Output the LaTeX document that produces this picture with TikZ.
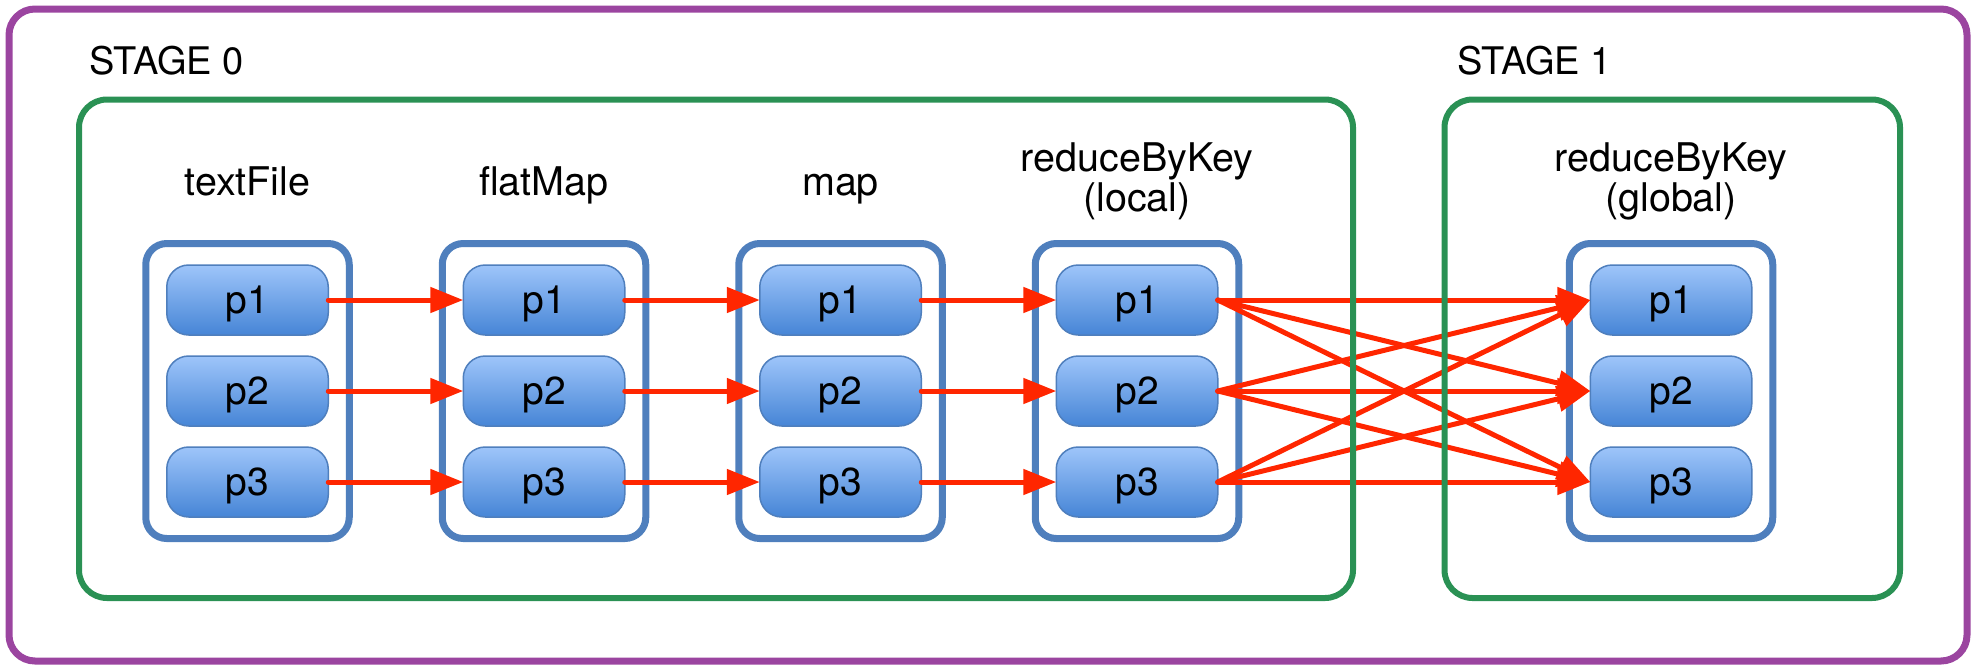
\documentclass[tikz,border=0pt]{standalone}
\usepackage{fontspec}
\setmainfont{TeX Gyre Heros}
\usetikzlibrary{arrows.meta}
\definecolor{framepurple}{RGB}{155,69,160}
\definecolor{stagegreen}{RGB}{42,145,84}
\definecolor{rddblue}{RGB}{79,127,189}
\definecolor{parttop}{RGB}{158,197,250}
\definecolor{partbottom}{RGB}{70,133,214}
\definecolor{flowred}{RGB}{255,38,0}

\begin{document}
\begin{tikzpicture}[x=1pt,y=-1pt,
  frame/.style={draw=framepurple,line width=7pt,rounded corners=26pt},
  stagebox/.style={draw=stagegreen,line width=6pt,rounded corners=28pt},
  stagetitle/.style={inner sep=0pt,anchor=base west,font=\fontsize{38}{40}\selectfont},
  rdd/.style={draw=rddblue,line width=7pt,rounded corners=21pt,fill=white,
    minimum width=203.5pt,minimum height=295pt,inner sep=0pt,outer sep=0pt},
  part/.style={draw=rddblue,line width=1.5pt,rounded corners=22pt,
    top color=parttop,bottom color=partbottom,
    minimum width=161.5pt,minimum height=70pt,inner sep=0pt,outer sep=0pt,
    text height=27pt,text depth=0pt,font=\fontsize{39}{40}\selectfont},
  opname/.style={inner sep=0pt,anchor=base,align=center,font=\fontsize{39.5}{40}\selectfont},
  flow/.style={draw=flowred,line width=5pt,line cap=round,
    -{Triangle[length=33pt,width=25pt]}}
]
\useasboundingbox (0,0) rectangle (1977,667);

% operator labels (base anchor sits on the last line)
\node[opname] (ltf) at (247.5,195) {textFile};
\node[opname] (lfm) at (544,195) {flatMap};
\node[opname] (lmp) at (840.5,195) {map};
\node[opname] (lrl) at (1137,211) {reduceByKey\\(local)};
\node[opname] (lrg) at (1671,211) {reduceByKey\\(global)};

% RDD containers with their partitions
\foreach \r/\x in {tf/247.5, fm/544, mp/840.5, rl/1137, rg/1671}{
  \node[rdd] (\r) at (\x,391) {};
  \node[part] (\r1) at (\x,300) {p1};
  \node[part] (\r2) at (\x,391) {p2};
  \node[part] (\r3) at (\x,482) {p3};
}

% narrow dependencies inside stage 0
\foreach \a/\b in {tf/fm, fm/mp, mp/rl}{
  \foreach \i in {1,2,3}{
    \draw[flow] (\a\i.east) -- (\b\i.west);
  }
}

% shuffle: every local partition feeds every global partition
\foreach \i in {1,2,3}{
  \foreach \j in {1,2,3}{
    \draw[flow] (rl\i.east) -- (rg\j.west);
  }
}

% stages
\draw[stagebox] (79,99.5) rectangle (1353,598);
\draw[stagebox] (1444.5,99.5) rectangle (1900,598);
\node[stagetitle] (s0) at (89,74) {STAGE 0};
\node[stagetitle] (s1) at (1457,74) {STAGE 1};

% job frame
\draw[frame] (9,9) rectangle (1967,661);
\end{tikzpicture}
\end{document}
